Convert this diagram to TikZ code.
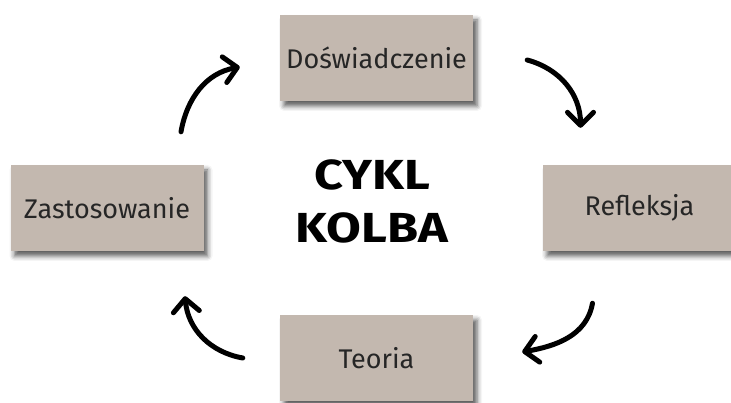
\documentclass[tikz,border=0pt]{standalone}
\usepackage{fontspec}
\setmainfont{Fira Sans}
\newfontfamily\tytul[FakeStretch=1.2]{Fira Sans}
\usepackage{xcolor}
\usepackage{tikz}
\usetikzlibrary{arrows.meta,positioning,calc,shadows.blur}

\definecolor{kolbfill}{RGB}{195,184,175}

\begin{document}
\begin{tikzpicture}[
    x=1pt, y=1pt,
    etap/.style={rectangle, fill=kolbfill, minimum width=193pt, minimum height=86pt, inner sep=0pt,
        font=\fontsize{27}{32}\selectfont, text=black!85,
        blur shadow={shadow xshift=4pt, shadow yshift=-5pt, shadow blur radius=5pt, shadow opacity=65}},
    cykl/.style={-{Straight Barb[length=13pt, width=26pt, round]}, line width=5pt, line cap=round, black}
]
    \useasboundingbox (0,0) rectangle (731,402);

    % Title in the middle
    \node[font=\tytul\fontsize{42}{53}\selectfont\bfseries, align=center] (title) at (372,201) {CYKL\\KOLBA};

    % Four stages of the cycle
    \node[etap] (dos) at (376.5,344) {Doświadczenie};
    \node[etap] (ref) at (639.5,194) {Refleksja};
    \node[etap] (teo) at (376.5,44)  {Teoria};
    \node[etap] (zas) at (107,194)   {Zastosowanie};

    % Arrow ends
    \coordinate (a1) at ($(zas.north)+(74,33)$);
    \coordinate (b1) at ($(dos.west)+(-40,-9)$);
    \coordinate (a2) at ($(dos.east)+(54,-2)$);
    \coordinate (b2) at ($(ref.north)+(-59,37)$);
    \coordinate (a3) at ($(ref.south)+(-47,-52)$);
    \coordinate (b3) at ($(teo.east)+(49,6)$);
    \coordinate (a4) at ($(teo.west)+(-37,0)$);
    \coordinate (b4) at ($(zas.south)+(78,-45)$);

    % Cycle arrows
    \draw[cykl] (a1) to[out=80,  in=190] (b1);
    \draw[cykl] (a2) to[out=-15, in=90]  (b2);
    \draw[cykl] (a3) to[out=-100,in=10]  (b3);
    \draw[cykl] (a4) to[out=170, in=-85] (b4);

\end{tikzpicture}
\end{document}
